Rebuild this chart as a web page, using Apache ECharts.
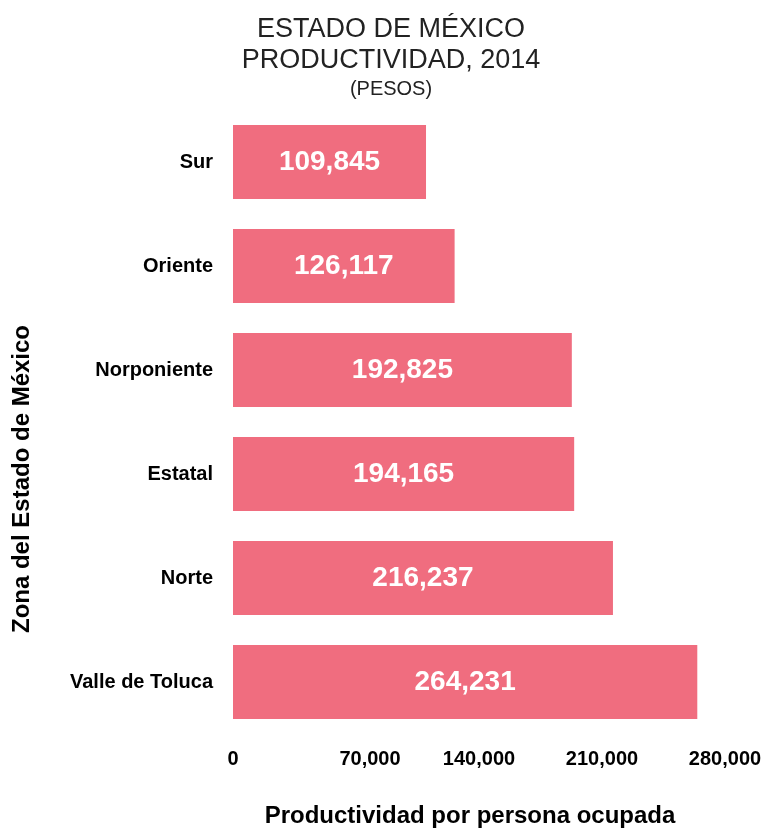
<!DOCTYPE html>
<html>
<head>
<meta charset="utf-8">
<script src="https://cdn.jsdelivr.net/npm/echarts@6/dist/echarts.min.js"></script>
<style>
  html, body { margin: 0; padding: 0; background: #fff; }
  #chart { width: 766px; height: 830px; }
</style>
</head>
<body>
<div id="chart"></div>
<script>
// Productividad por zona, Estado de México 2014 (pesos por persona ocupada)
const zonas = ['Valle de Toluca', 'Norte', 'Estatal', 'Norponiente', 'Oriente', 'Sur'];
const productividad = [264231, 216237, 194165, 192825, 126117, 109845];
const xTicks = [0, 70000, 140000, 210000, 280000];

const FONT = '"Liberation Sans", Arial, Helvetica, sans-serif';
const BAR = '#F06D7F';
const fmt = (v) => v.toLocaleString('en-US');

const chart = echarts.init(document.getElementById('chart'), null, { renderer: 'canvas' });

chart.setOption({
  animation: false,
  textStyle: { fontFamily: FONT },
  title: [
    {
      text: 'ESTADO DE MÉXICO\nPRODUCTIVIDAD, 2014',
      left: 386, top: 9, textAlign: 'center',
      textStyle: { fontFamily: FONT, fontSize: 27, fontWeight: 'normal', color: '#222', lineHeight: 31 },
    },
    {
      text: '(PESOS)',
      left: 386, top: 74, textAlign: 'center',
      textStyle: { fontFamily: FONT, fontSize: 20, fontWeight: 'normal', color: '#222' },
    },
  ],
  grid: { left: 233, right: 41, top: 110, bottom: 96, containLabel: false, outerBoundsMode: 'none' },
  xAxis: {
    type: 'value',
    min: xTicks[0], max: xTicks[xTicks.length - 1], interval: 70000,
    name: 'Productividad por persona ocupada',
    nameLocation: 'middle', nameGap: 70,
    nameTextStyle: { fontFamily: FONT, fontSize: 24, fontWeight: 'bold', color: '#000', padding: [0, 18, 0, 0] },
    axisLine: { show: false },
    axisTick: { show: false },
    splitLine: { show: false },
    axisLabel: {
      margin: 15,
      fontFamily: FONT, fontSize: 20, fontWeight: 'bold', color: '#000',
      formatter: (v) => (v === 70000 ? '{s|' + fmt(v) + '}' : fmt(v)),
      rich: { s: { fontFamily: FONT, fontSize: 20, fontWeight: 'bold', color: '#000', padding: [0, 0, 0, 28] } },
    },
  },
  yAxis: {
    type: 'category',
    data: zonas,
    name: 'Zona del Estado de México',
    nameLocation: 'middle', nameGap: 199, nameRotate: 90,
    nameTextStyle: { fontFamily: FONT, fontSize: 24, fontWeight: 'bold', color: '#000', padding: [0, 114, 0, 0] },
    axisLine: { show: false },
    axisTick: { show: false },
    axisLabel: { margin: 20, fontFamily: FONT, fontSize: 20, fontWeight: 'bold', color: '#000' },
  },
  series: [
    {
      type: 'bar',
      data: productividad,
      barCategoryGap: '29%',
      itemStyle: { color: BAR },
      label: {
        show: true, position: 'inside',
        fontFamily: FONT, fontSize: 28, fontWeight: 'bold', color: '#fff',
        formatter: (p) => fmt(p.value),
      },
    },
  ],
});
</script>
</body>
</html>
